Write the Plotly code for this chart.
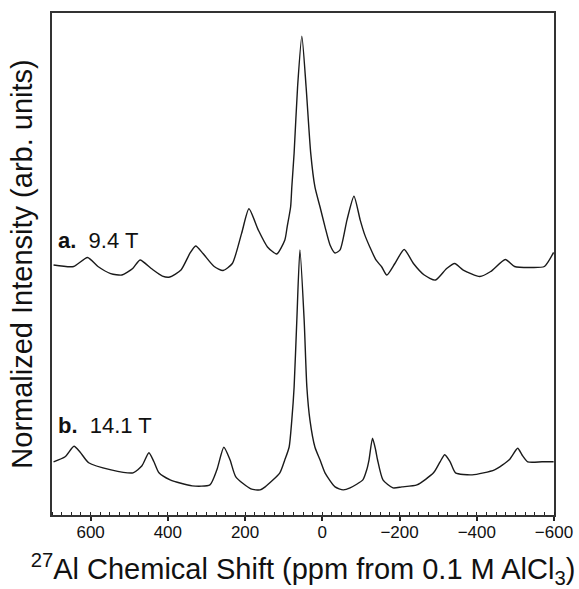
import plotly.graph_objects as go

# 27Al chemical shift (ppm) and normalized intensity (arb. units, stacked offsets included)
shift_a = [696, 644, 608, 581, 548, 519, 491, 472, 443, 414, 395, 366, 343, 328, 309, 280,
           257, 233, 209, 190, 166, 142, 118, 97, 91, 82, 79, 73, 64, 53, 42, 30, 19, 6, -7,
           -20, -33, -46, -64, -82, -98, -110, -123, -139, -154, -167, -188, -212, -236, -264,
           -293, -322, -343, -365, -408, -436, -474, -498, -541, -575, -599]
intensity_a = [49.8, 49.5, 51.3, 49.5, 48.1, 47.8, 49.1, 50.8, 49.1, 47.6, 47.4, 48.8, 52.1,
               53.6, 52.1, 49.5, 48.7, 50.1, 56.1, 61.0, 56.8, 53.4, 52.0, 54.8, 57.4, 61.4,
               65.3, 72.1, 85.3, 95.4, 85.3, 72.1, 65.3, 61.4, 57.4, 53.8, 52.2, 52.8, 58.8,
               63.5, 58.8, 55.8, 53.4, 50.8, 49.4, 47.8, 50.1, 52.9, 50.1, 47.8, 46.8, 49.1,
               50.1, 48.8, 47.5, 48.5, 50.9, 49.5, 49.3, 49.5, 52.3]

shift_b = [696, 666, 643, 627, 605, 547, 490, 467, 449, 436, 423, 394, 337, 291, 273, 255,
           239, 224, 185, 161, 148, 110, 97, 86, 79, 73, 66, 58, 47, 40, 32, 19, 6, -7, -33,
           -54, -72, -105, -115, -121, -130, -138, -143, -157, -183, -206, -245, -288, -305,
           -317, -331, -345, -388, -446, -484, -506, -517, -532, -569, -599]
intensity_b = [10.6, 11.6, 13.7, 12.5, 10.4, 9.0, 8.4, 9.8, 12.4, 10.6, 8.4, 7.0, 5.8, 6.0,
               9.0, 13.5, 11.0, 7.6, 5.2, 5.0, 5.6, 8.4, 11.0, 13.5, 18.9, 25.5, 38.8, 52.8,
               38.8, 25.5, 18.9, 13.5, 11.0, 8.4, 5.6, 5.0, 5.4, 7.0, 9.0, 11.0, 15.3, 13.0,
               11.0, 7.0, 5.4, 5.6, 6.0, 8.4, 10.6, 12.0, 10.6, 8.4, 8.0, 9.0, 11.0, 13.3,
               12.0, 10.6, 10.6, 10.6]

x_ticks = [600, 400, 200, 0, -200, -400, -600]
x_tick_labels = ["600", "400", "200", "0", "\u2212200", "\u2212400", "\u2212600"]
labels = [("a.", "9.4 T", 240), ("b.", "14.1 T", 426)]

FONT = "Liberation Sans, Arial, sans-serif"
LINE = "#1a1a1a"

fig = go.Figure()
for xs, ys in [(shift_a, intensity_a), (shift_b, intensity_b)]:
    fig.add_trace(go.Scatter(x=xs, y=ys, mode="lines",
                             line=dict(color=LINE, width=1.4, shape="spline", smoothing=0.6),
                             showlegend=False, hoverinfo="skip"))

for bold, txt, ypx in labels:
    fig.add_annotation(text=f"<b>{bold}</b>\u00a0\u00a0{txt}", xref="paper", yref="paper",
                       x=0, y=(515 - ypx) / 502, xanchor="left", yanchor="middle",
                       xshift=4, showarrow=False,
                       font=dict(family=FONT, size=22, color="#111"))

fig.update_layout(
    width=579, height=589,
    margin=dict(l=52, r=25, t=13, b=74),
    paper_bgcolor="white", plot_bgcolor="white",
    font=dict(family=FONT, color="#111"),
    xaxis=dict(range=[700, -600], tickvals=x_ticks, ticktext=x_tick_labels,
               ticks="outside", ticklen=4, tickwidth=1.5, tickcolor="#222",
               ticklabelstandoff=-3,
               minor=dict(dtick=25, tick0=0, ticks="inside", ticklen=3, tickwidth=1.2,
                          tickcolor="#222", showgrid=False),
               showline=True, linecolor="#333", linewidth=1.6, mirror=True,
               showgrid=False, zeroline=False,
               tickfont=dict(family=FONT, size=17, color="#111"),
               title=dict(text="<sup>27</sup>Al Chemical Shift (ppm from 0.1 M AlCl<sub>3</sub>)",
                          font=dict(family=FONT, size=29, color="#111"), standoff=19),
               automargin=False),
    yaxis=dict(range=[0, 100], showticklabels=False, ticks="",
               showline=True, linecolor="#333", linewidth=1.6, mirror=True,
               showgrid=False, zeroline=False,
               title=dict(text="Normalized Intensity (arb. units)",
                          font=dict(family=FONT, size=29, color="#111"), standoff=9),
               automargin=False),
)

fig.write_html("out.html", post_script="document.body.style.margin='0';",
               config={"displayModeBar": False})
